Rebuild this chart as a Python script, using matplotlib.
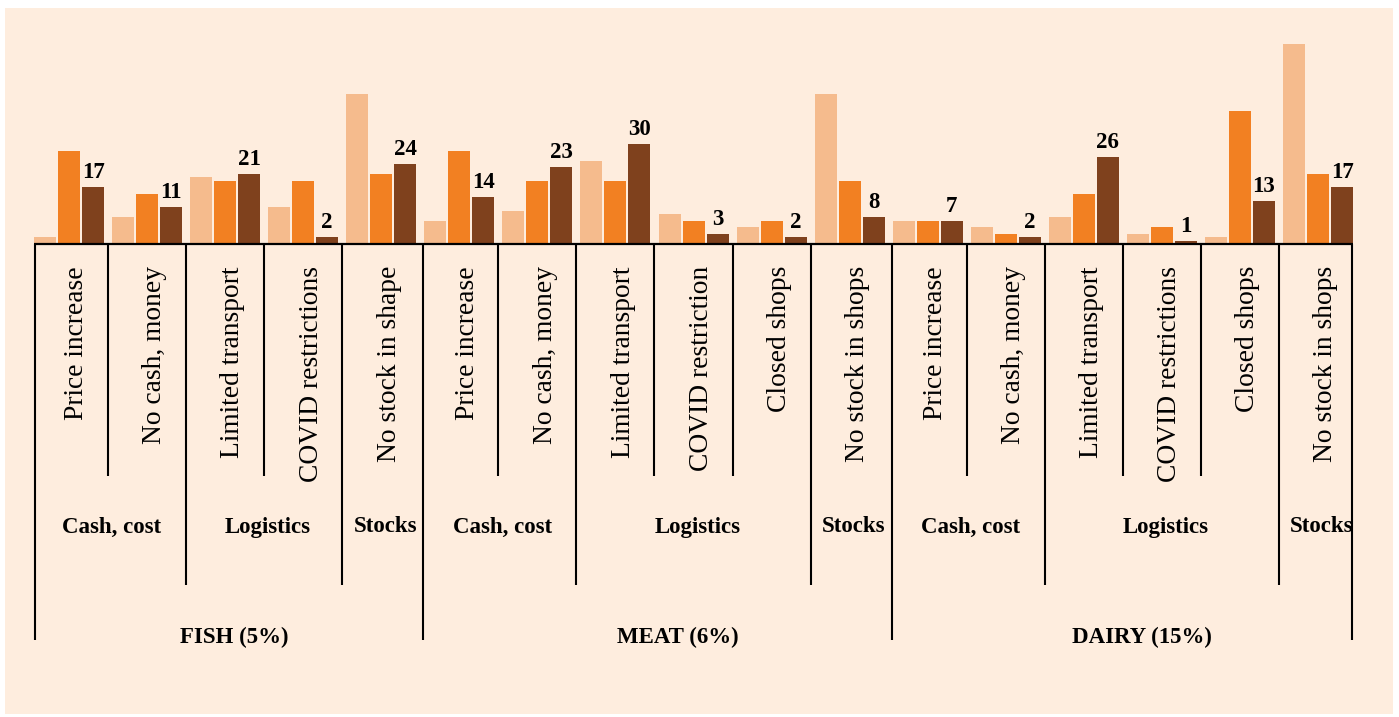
import matplotlib
matplotlib.use("Agg")
import matplotlib.pyplot as plt
from matplotlib.patches import Rectangle
import numpy as np

# ---- data -------------------------------------------------------------
categories = [
    "Price increase", "No cash, money", "Limited transport", "COVID restrictions", "No stock in shape",
    "Price increase", "No cash, money", "Limited transport", "COVID restriction", "Closed shops",
    "No stock in shops",
    "Price increase", "No cash, money", "Limited transport", "COVID restrictions", "Closed shops",
    "No stock in shops",
]
group_names = ["Cash, cost", "Logistics", "Stocks",
               "Cash, cost", "Logistics", "Stocks",
               "Cash, cost", "Logistics", "Stocks"]
group_sizes = [2, 2, 1, 2, 3, 1, 2, 3, 1]
food_names = ["FISH (5%)", "MEAT (6%)", "DAIRY (15%)"]
food_sizes = [5, 6, 6]

series_light = [2, 8, 20, 11, 45, 7, 10, 25, 9, 5, 45, 7, 5, 8, 3, 2, 60]
series_orange = [28, 15, 19, 19, 21, 28, 19, 19, 7, 7, 19, 7, 3, 15, 5, 40, 21]
series_dark = [17, 11, 21, 2, 24, 14, 23, 30, 3, 2, 8, 7, 2, 26, 1, 13, 17]

# ---- style ------------------------------------------------------------
plt.rcParams["font.family"] = ["Liberation Serif", "DejaVu Serif"]
BG = "#FEEDDE"
COLORS = ["#F5BB8D", "#F28022", "#7F411D"]

W, H = 1399, 717
fig = plt.figure(figsize=(W / 100, H / 100), dpi=100, facecolor="white")
fig.patches.append(Rectangle((5 / W, 1 - 714 / H), (1393 - 5) / W, (714 - 8) / H,
                             transform=fig.transFigure, facecolor=BG,
                             edgecolor="none", zorder=-10))

ax = fig.add_axes([0, 0, 1, 1])
ax.set_axis_off()
ax.patch.set_visible(False)

# pixel scale of the drawing area
PX = 78.06          # pixels per category
PY = 10 / 3         # pixels per unit of value
BASE = 244          # baseline, pixels from top
LEFT = 34           # left edge of first bar, pixels
x_first = -0.449
ax.set_xlim(x_first - LEFT / PX, x_first + (W - LEFT) / PX)
ax.set_ylim(-(H - BASE) / PY, BASE / PY)


def ypx(py):
    """Vertical position given in pixels from the top."""
    return (BASE - py) / PY


n = len(categories)
x = np.arange(n)
step, width = 0.3075, 0.282
for k, (vals, col) in enumerate(zip([series_light, series_orange, series_dark], COLORS)):
    ax.bar(x + (k - 1) * step, vals, width=width, color=col, edgecolor="none", zorder=3)

for xi, v in zip(x, series_dark):
    ax.annotate(str(v), (xi + step, v), xytext=(0, 6.5), textcoords="offset points",
                ha="center", va="baseline", fontsize=16.5, fontweight="bold", zorder=4)

# baseline
ax.plot([x_first, n - 1 - x_first], [0, 0], color="black", lw=1.6, zorder=5,
        solid_capstyle="butt")

# separators of the three-level category axis
group_ends = np.cumsum(group_sizes)
food_ends = np.cumsum(food_sizes)
for b in range(1, n):
    xb = b - 0.5
    if b in food_ends:
        bottom = 640
        xb += 0.04
    elif b in group_ends:
        bottom = 585
    else:
        bottom = 476
    ax.plot([xb, xb], [0, ypx(bottom)], color="black", lw=1.5, zorder=5,
            solid_capstyle="butt")
for xe in (-0.44, n - 1 + 0.43):
    ax.plot([xe, xe], [0, ypx(640)], color="black", lw=1.5, zorder=5, solid_capstyle="butt")

# category labels
for xi, lab in zip(x, categories):
    ax.text(xi + 0.1, ypx(266), lab, rotation=90, ha="center", va="top", fontsize=19.8)

# group labels
start = 0
for name, size in zip(group_names, group_sizes):
    centre = start + (size - 1) / 2
    ax.text(centre + 0.05, ypx(527), name, ha="center", va="center",
            fontsize=16.5, fontweight="bold")
    start += size

# food labels
food_nudge = [0.12, 0.3, 0.25]
start = 0
for name, size, nudge in zip(food_names, food_sizes, food_nudge):
    centre = start + (size - 1) / 2
    ax.text(centre + nudge, ypx(637), name, ha="center", va="center",
            fontsize=16.5, fontweight="bold")
    start += size

fig.savefig("out.png", dpi=100, facecolor=fig.get_facecolor())
